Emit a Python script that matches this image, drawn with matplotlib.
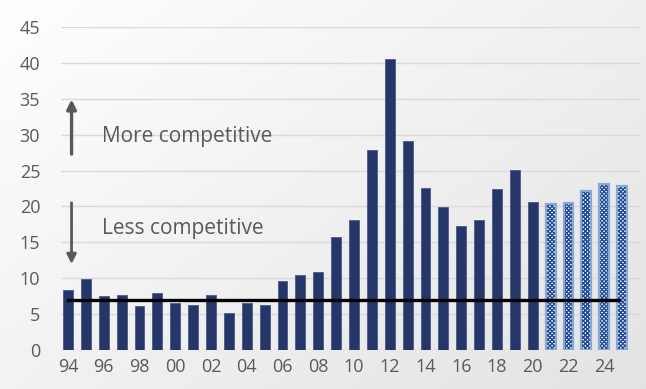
import numpy as np
import matplotlib.pyplot as plt

# data
years = list(range(1994, 2026))
values = [8.4, 9.9, 7.5, 7.7, 6.1, 7.9, 6.6, 6.2, 7.7, 5.2, 6.5, 6.2, 9.6, 10.4,
          10.8, 15.7, 18.1, 27.8, 40.5, 29.1, 22.6, 19.9, 17.3, 18.1, 22.4, 25.1,
          20.6, 20.4, 20.5, 22.2, 23.1, 22.9]
forecast_from = 2021
threshold = 7
tick_years = list(range(1994, 2026, 2))
tick_labels = [f"{y % 100:02d}" for y in tick_years]

navy = "#253668"
grey = "#595959"

plt.rcParams['font.family'] = ['Open Sans', 'DejaVu Sans']

fig = plt.figure(figsize=(6.46, 3.89), dpi=100)

# soft grey gradient background, white top-left to light grey bottom-right
bg = fig.add_axes([0, 0, 1, 1], zorder=-1)
xx, yy = np.meshgrid(np.linspace(0, 1, 200), np.linspace(0, 1, 200))
shade = 1.0 - 0.06 * xx - 0.05 * yy
bg.imshow(np.dstack([shade, shade, shade]), aspect='auto', extent=[0, 1, 0, 1])
bg.axis('off')

ax = fig.add_axes([61 / 646, 1 - 350 / 389, (640 - 61) / 646, 323 / 389])
ax.patch.set_alpha(0)

hist_y = [y for y in years if y < forecast_from]
hist_v = [v for y, v in zip(years, values) if y < forecast_from]
fc_y = [y for y in years if y >= forecast_from]
fc_v = [v for y, v in zip(years, values) if y >= forecast_from]

w = 0.55
ax.bar(hist_y, hist_v, width=w, color=navy, edgecolor="#4a5a88", linewidth=0.6, zorder=3)
ax.bar(fc_y, fc_v, width=w, color="white", edgecolor="#1f4a94", hatch="xxxxxxxx",
       linewidth=0, zorder=3)
ax.bar(fc_y, fc_v, width=w, fill=False, edgecolor="#8aa8d4", linewidth=1.6, zorder=4)

ax.plot([years[0], years[-1] - 0.15], [threshold, threshold], color="black", lw=2.4, zorder=5)

ax.set_ylim(0, 45)
ax.set_xlim(1993.61, 2026.0)
ax.set_yticks(range(0, 50, 5))
ax.set_xticks(tick_years)
ax.set_xticklabels(tick_labels)
ax.grid(axis='y', color="#d9d9d9", lw=1, zorder=0)
ax.tick_params(length=0, colors=grey, labelsize=13)
ax.tick_params(axis='x', pad=6)
ax.tick_params(axis='y', pad=15)
for s in ax.spines.values():
    s.set_visible(False)

ax.annotate("", xy=(1994.2, 35.3), xytext=(1994.2, 26.9),
            arrowprops=dict(arrowstyle="-|>", color=grey, lw=2.4, mutation_scale=14), zorder=6)
ax.annotate("", xy=(1994.2, 11.6), xytext=(1994.2, 20.9),
            arrowprops=dict(arrowstyle="-|>", color=grey, lw=2.0, mutation_scale=14), zorder=6)
ax.text(1995.9, 29.7, "More competitive", color=grey, fontsize=15, va='center', ha='left')
ax.text(1995.9, 16.9, "Less competitive", color=grey, fontsize=15, va='center', ha='left')

fig.savefig("out.png", dpi=100)
